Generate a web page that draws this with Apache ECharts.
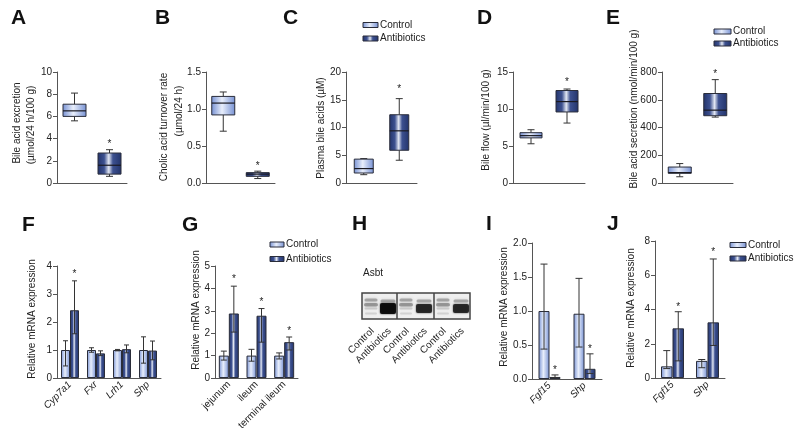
<!DOCTYPE html>
<html><head><meta charset="utf-8">
<script src="https://cdn.jsdelivr.net/npm/echarts@6/dist/echarts.min.js"></script>
<style>html,body{margin:0;padding:0;background:#fff}#main{width:800px;height:434px}</style>
</head><body><div id="main"></div>
<script>
// ---------- DATA ----------
const groups = ['Control', 'Antibiotics'];
// box panels: [min, Q1, median, Q3, max] for Control, Antibiotics
const boxA = [[5.6, 6.0, 6.5, 7.1, 8.1], [0.6, 0.8, 1.6, 2.7, 3.0]];
const starA = 3.7;
const boxB = [[0.70, 0.92, 1.08, 1.17, 1.23], [0.06, 0.09, 0.12, 0.14, 0.16]];
const starB = 0.26;
const boxC = [[1.5, 1.8, 2.6, 4.3, 4.4], [4.1, 5.9, 9.4, 12.3, 15.2]];
const starC = 17.3;
const boxD = [[5.3, 6.1, 6.4, 6.8, 7.2], [8.1, 9.6, 11.0, 12.5, 12.7]];
const starD = 13.9;
const boxE = [[45, 70, 75, 115, 140], [475, 485, 525, 645, 745]];
const starE = 805;

// bar panels
const catsF = ['Cyp7a1', 'Fxr', 'Lrh1', 'Shp'];
const ctrlF = [1.0, 1.0, 1.0, 1.0];
const ctrlErrF = [[0.43, 1.33], [0.92, 1.08], [0.97, 1.02], [0.53, 1.47]];
const abxF = [2.42, 0.88, 1.03, 0.98];
const abxErrF = [[1.58, 3.47], [0.80, 0.97], [0.90, 1.18], [0.65, 1.32]];
const starsF = [[0, 1, 3.8]]; // [category, group, value]

const catsG = ['jejunum', 'ileum', 'terminal ileum'];
const ctrlG = [1.0, 1.0, 1.0];
const ctrlErrG = [[0.8, 1.2], [0.75, 1.28], [0.85, 1.12]];
const abxG = [2.88, 2.78, 1.6];
const abxErrG = [[2.05, 4.1], [1.6, 3.1], [1.25, 1.83]];
const starsG = [[0, 1, 4.5], [1, 1, 3.5], [2, 1, 2.2]];

const catsI = ['Fgf15', 'Shp'];
const ctrlI = [1.0, 0.96];
const ctrlErrI = [[0.44, 1.69], [0.47, 1.48]];
const abxI = [0.03, 0.15];
const abxErrI = [[0.02, 0.06], [0.08, 0.37]];
const starsI = [[0, 1, 0.16], [1, 1, 0.48]];

const catsJ = ['Fgf15', 'Shp'];
const ctrlJ = [0.68, 1.0];
const ctrlErrJ = [[0.55, 1.6], [0.6, 1.08]];
const abxJ = [2.9, 3.25];
const abxErrJ = [[1.0, 3.87], [1.9, 6.95]];
const starsJ = [[0, 1, 4.3], [1, 1, 7.5]];

const blotLabels = ['Control', 'Antibiotics', 'Control', 'Antibiotics', 'Control', 'Antibiotics'];

// ---------- STYLE ----------
const FONT = '"Liberation Sans", Arial, sans-serif';
function ctrlGrad() {
  return {type: 'linear', x: 0, y: 0, x2: 1, y2: 0, colorStops: [
    {offset: 0, color: '#7590d3'}, {offset: 0.45, color: '#e8eefb'}, {offset: 1, color: '#7590d3'}]};
}
function abxGrad() {
  return {type: 'linear', x: 0, y: 0, x2: 1, y2: 0, colorStops: [
    {offset: 0, color: '#22336a'}, {offset: 0.28, color: '#3d5190'}, {offset: 0.47, color: '#e2e7f3'},
    {offset: 0.64, color: '#3d5190'}, {offset: 1, color: '#22336a'}]};
}
const gradFor = g => (g === 0 ? ctrlGrad() : abxGrad());
const EDGE = '#2a2d3a';

const chart = echarts.init(document.getElementById('main'));
const grid = [], xAxis = [], yAxis = [], series = [];

function addAxes(i, p, cats, xLabel) {
  grid.push(Object.assign({containLabel: false}, p.grid));
  xAxis.push({type: 'category', gridIndex: i, data: cats,
    axisLine: {lineStyle: {color: '#555', width: 1}}, axisTick: {show: false},
    axisLabel: xLabel || {show: false}});
  yAxis.push({type: 'value', gridIndex: i, min: 0, max: p.yMax, interval: p.yInt,
    axisLine: {show: true, lineStyle: {color: '#555', width: 1}},
    axisTick: {show: true, length: 4, lineStyle: {color: '#555'}},
    splitLine: {show: false},
    axisLabel: {fontSize: 10, color: '#222', margin: 5, fontFamily: FONT, formatter: v => v.toFixed(p.dec)}});
}

function boxRender(bw) {
  return function (params, api) {
    const cat = api.value(0);
    const pMin = api.coord([cat, api.value(1)]);
    const pQ1 = api.coord([cat, api.value(2)]);
    const pMed = api.coord([cat, api.value(3)]);
    const pQ3 = api.coord([cat, api.value(4)]);
    const pMax = api.coord([cat, api.value(5)]);
    const x = pMin[0], c = 3.5;
    const ls = {stroke: '#333', lineWidth: 1};
    return {type: 'group', children: [
      {type: 'line', shape: {x1: x, y1: pMax[1], x2: x, y2: pQ3[1]}, style: ls},
      {type: 'line', shape: {x1: x, y1: pQ1[1], x2: x, y2: pMin[1]}, style: ls},
      {type: 'line', shape: {x1: x - c, y1: pMax[1], x2: x + c, y2: pMax[1]}, style: ls},
      {type: 'line', shape: {x1: x - c, y1: pMin[1], x2: x + c, y2: pMin[1]}, style: ls},
      {type: 'rect', shape: {x: x - bw / 2, y: pQ3[1], width: bw, height: pQ1[1] - pQ3[1]},
        style: {fill: gradFor(cat), stroke: EDGE, lineWidth: 1}},
      {type: 'line', shape: {x1: x - bw / 2, y1: pMed[1], x2: x + bw / 2, y2: pMed[1]}, style: {stroke: '#1a1a22', lineWidth: 1.2}}
    ]};
  };
}
function errRender(bw, c) {
  return function (params, api) {
    const cat = api.value(0), g = api.value(1);
    const lo = api.coord([cat, api.value(2)]);
    const hi = api.coord([cat, api.value(3)]);
    const x = lo[0] + (g - 0.5) * bw;
    const ls = {stroke: '#333', lineWidth: 1};
    return {type: 'group', children: [
      {type: 'line', shape: {x1: x, y1: lo[1], x2: x, y2: hi[1]}, style: ls},
      {type: 'line', shape: {x1: x - c, y1: hi[1], x2: x + c, y2: hi[1]}, style: ls},
      {type: 'line', shape: {x1: x - c, y1: lo[1], x2: x + c, y2: lo[1]}, style: ls}
    ]};
  };
}
function starRender(bw) {
  return function (params, api) {
    const cat = api.value(0), g = api.value(2);
    const p = api.coord([cat, api.value(1)]);
    const off = bw ? (g - 0.5) * bw : 0;
    return {type: 'text', x: p[0] + off, y: p[1] + 2.5,
      style: {text: '*', fontSize: 10, fontFamily: FONT, fill: '#222', align: 'center', verticalAlign: 'middle'}};
  };
}

const boxPanels = [
  {grid: {left: 57, top: 72, width: 70, height: 111}, yMax: 10, yInt: 2, dec: 0, box: boxA, star: starA, boxW: 23},
  {grid: {left: 206, top: 72, width: 69, height: 111}, yMax: 1.5, yInt: 0.5, dec: 1, box: boxB, star: starB, boxW: 23},
  {grid: {left: 346, top: 72, width: 71, height: 111}, yMax: 20, yInt: 5, dec: 0, box: boxC, star: starC, boxW: 19},
  {grid: {left: 513, top: 72, width: 72, height: 111}, yMax: 15, yInt: 5, dec: 0, box: boxD, star: starD, boxW: 22},
  {grid: {left: 662, top: 72, width: 71, height: 111}, yMax: 800, yInt: 200, dec: 0, box: boxE, star: starE, boxW: 23}
];
let idx = 0;
boxPanels.forEach(p => {
  addAxes(idx, p, groups, null);
  series.push({type: 'custom', xAxisIndex: idx, yAxisIndex: idx, clip: false,
    data: p.box.map((b, k) => [k].concat(b)), encode: {x: 0, y: [1, 2, 3, 4, 5]}, renderItem: boxRender(p.boxW)});
  series.push({type: 'custom', xAxisIndex: idx, yAxisIndex: idx, clip: false, silent: true,
    data: [[1, p.star, 0]], encode: {x: 0, y: 1}, renderItem: starRender(0)});
  idx++;
});

const barPanels = [
  {grid: {left: 57, top: 266, width: 104, height: 112}, yMax: 4, yInt: 1, dec: 0, cats: catsF, italic: true,
    ctrl: ctrlF, ctrlErr: ctrlErrF, abx: abxF, abxErr: abxErrF, stars: starsF, barW: 9, cap: 2.5},
  {grid: {left: 215, top: 266, width: 83, height: 112}, yMax: 5, yInt: 1, dec: 0, cats: catsG, italic: false,
    ctrl: ctrlG, ctrlErr: ctrlErrG, abx: abxG, abxErr: abxErrG, stars: starsG, barW: 10, cap: 3},
  {grid: {left: 532, top: 243, width: 70, height: 136}, yMax: 2, yInt: 0.5, dec: 1, cats: catsI, italic: true,
    ctrl: ctrlI, ctrlErr: ctrlErrI, abx: abxI, abxErr: abxErrI, stars: starsI, barW: 11, cap: 3.5},
  {grid: {left: 655, top: 241, width: 70, height: 137}, yMax: 8, yInt: 2, dec: 0, cats: catsJ, italic: true,
    ctrl: ctrlJ, ctrlErr: ctrlErrJ, abx: abxJ, abxErr: abxErrJ, stars: starsJ, barW: 11.5, cap: 3.5}
];
barPanels.forEach(p => {
  addAxes(idx, p, p.cats, {show: true, rotate: 45, interval: 0, fontSize: 10, color: '#222', fontFamily: FONT,
    fontStyle: p.italic ? 'italic' : 'normal', margin: 5});
  series.push({type: 'bar', name: groups[0], xAxisIndex: idx, yAxisIndex: idx, data: p.ctrl, barWidth: p.barW, barGap: '0%',
    itemStyle: {color: ctrlGrad(), borderColor: EDGE, borderWidth: 1}});
  series.push({type: 'bar', name: groups[1], xAxisIndex: idx, yAxisIndex: idx, data: p.abx, barWidth: p.barW, barGap: '0%',
    itemStyle: {color: abxGrad(), borderColor: EDGE, borderWidth: 1}});
  const err = p.ctrlErr.map((e, k) => [k, 0, e[0], e[1]]).concat(p.abxErr.map((e, k) => [k, 1, e[0], e[1]]));
  series.push({type: 'custom', xAxisIndex: idx, yAxisIndex: idx, z: 5, clip: false, silent: true,
    data: err, encode: {x: 0, y: [2, 3]}, renderItem: errRender(p.barW, p.cap)});
  series.push({type: 'custom', xAxisIndex: idx, yAxisIndex: idx, z: 5, clip: false, silent: true,
    data: p.stars.map(s => [s[0], s[2], s[1]]), encode: {x: 0, y: 1}, renderItem: starRender(p.barW)});
  idx++;
});

// ---------- GRAPHIC (letters, titles, legends, blot) ----------
const graphic = [];
const letters = [['A', 11, 8], ['B', 155, 8], ['C', 283, 8], ['D', 477, 8], ['E', 606, 8],
  ['F', 22, 215], ['G', 182, 215], ['H', 352, 214], ['I', 486, 214], ['J', 607, 214]];
letters.forEach(l => graphic.push({type: 'text', x: l[1], y: l[2],
  style: {text: l[0], font: 'bold 21px ' + FONT, fill: '#111', align: 'left', verticalAlign: 'top'}}));

const ytitles = [
  ['Bile acid excretion', 17, 123], ['(µmol/24 h/100 g)', 31, 125],
  ['Cholic acid turnover rate', 164, 127], ['(µmol/24 h)', 179, 111],
  ['Plasma bile acids (µM)', 321, 128],
  ['Bile flow (µl/min/100 g)', 486, 120],
  ['Bile acid secretion (nmol/min/100 g)', 634, 109],
  ['Relative mRNA expression', 32, 319],
  ['Relative mRNA expression', 196, 310],
  ['Relative mRNA expression', 504, 307],
  ['Relative mRNA expression', 631, 308]
];
ytitles.forEach(t => graphic.push({type: 'text', x: t[1], y: t[2], rotation: Math.PI / 2,
  style: {text: t[0], fontSize: 10, fontFamily: FONT, fill: '#222', align: 'center', verticalAlign: 'middle'}}));

function legend(x, y1, y2, w, h) {
  [y1, y2].forEach((y, g) => {
    graphic.push({type: 'rect', shape: {x: x, y: y - h / 2, width: w, height: h},
      style: {fill: gradFor(g), stroke: EDGE, lineWidth: 1}});
    graphic.push({type: 'text', x: x + w + 2, y: y,
      style: {text: groups[g], fontSize: 10, fontFamily: FONT, fill: '#222', align: 'left', verticalAlign: 'middle'}});
  });
}
legend(363, 25, 38.5, 15, 5);
legend(714, 31.5, 43.5, 17, 5);
legend(270, 244.5, 259, 14, 5);
legend(730, 245, 258.5, 16, 5);

// western blot (panel H)
graphic.push({type: 'text', x: 363, y: 273,
  style: {text: 'Asbt', fontSize: 10, fontFamily: FONT, fill: '#222', align: 'left', verticalAlign: 'middle'}});
graphic.push({type: 'rect', shape: {x: 362, y: 293, width: 108, height: 26}, style: {fill: '#efefef', stroke: 'none'}});
const laneX = [371, 388, 406, 424, 443, 461];
laneX.forEach((x, k) => {
  const soft = (y, h, w, c, b) => graphic.push({type: 'rect', shape: {x: x - w / 2, y: y, width: w, height: h, r: Math.min(2, h / 2)},
    style: {fill: c, shadowBlur: b, shadowColor: c}});
  if (k % 2 === 0) {
    soft(298.5, 3, 13, 'rgba(120,120,120,0.55)', 3);
    soft(303, 3.5, 14, 'rgba(110,110,110,0.6)', 3);
    soft(307.5, 2, 13, 'rgba(160,160,160,0.4)', 2);
    soft(312.5, 2, 12, 'rgba(170,170,170,0.35)', 2);
  } else {
    const strong = k === 1;
    soft(299.5, 3, 15, 'rgba(110,110,110,0.5)', 3);
    soft(strong ? 303 : 304, strong ? 11 : 9, 16, strong ? 'rgba(10,10,10,0.92)' : 'rgba(30,30,30,0.88)', 2);
  }
});
graphic.push({type: 'rect', shape: {x: 362, y: 293, width: 108, height: 26}, style: {fill: 'none', stroke: '#444', lineWidth: 1.5}});
graphic.push({type: 'line', shape: {x1: 397, y1: 293, x2: 397, y2: 319}, style: {stroke: '#444', lineWidth: 1.5}});
graphic.push({type: 'line', shape: {x1: 434, y1: 293, x2: 434, y2: 319}, style: {stroke: '#444', lineWidth: 1.5}});
blotLabels.forEach((t, k) => graphic.push({type: 'text', x: laneX[k] - 2, y: 326, rotation: Math.PI / 4,
  style: {text: t, fontSize: 10, fontFamily: FONT, fill: '#222', align: 'right', verticalAlign: 'top'}}));

chart.setOption({animation: false, backgroundColor: '#fff', grid, xAxis, yAxis, series, graphic});
</script></body></html>
